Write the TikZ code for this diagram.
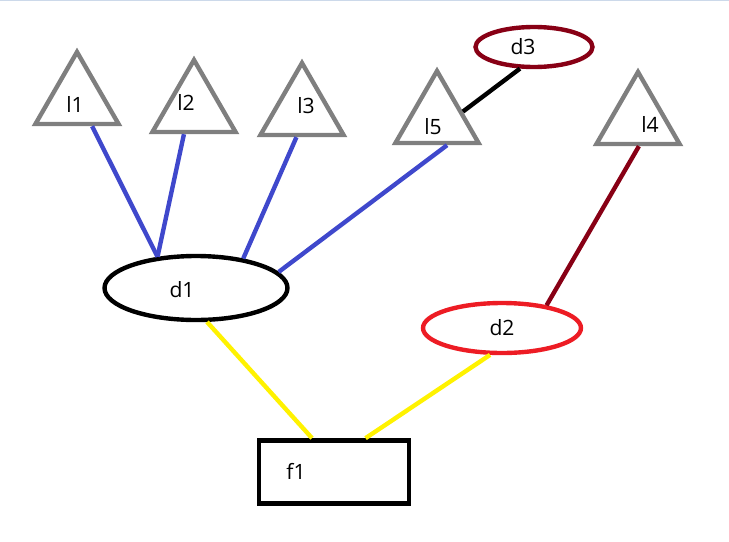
\documentclass[tikz,border=0pt]{standalone}
\usepackage{fontspec}
\setmainfont{Open Sans}
\usepackage{tikz}
\usetikzlibrary{shapes.geometric}

\definecolor{paintgray}{RGB}{127,127,127}
\definecolor{paintblue}{RGB}{63,72,204}
\definecolor{paintmaroon}{RGB}{136,0,21}
\definecolor{paintred}{RGB}{237,28,36}
\definecolor{paintyellow}{RGB}{255,242,0}
\definecolor{framebar}{RGB}{204,217,234}

\begin{document}
\begin{tikzpicture}[
  x=0.02cm, y=-0.02cm,
  font=\fontsize{12}{14}\selectfont,
  tri/.style={
    draw=paintgray, line width=2.5pt,
    regular polygon, regular polygon sides=3,
    minimum size=1.92cm, inner sep=0pt
  },
  oval/.style={draw=#1, line width=2.5pt, ellipse, inner sep=0pt},
  box/.style={draw=black, line width=2.7pt, inner sep=0pt,
    minimum width=3.0cm, minimum height=1.26cm},
  link/.style={line width=2.5pt, #1}
]
\useasboundingbox (0,0) rectangle (729,541);
\draw[framebar, line width=0.6pt] (0,0.5) -- (729,0.5);

% ── Top row: triangles ─────────────────────────────────────────────────────
\node[tri, label={[shift={(-2,4)}]center:l1}]  (l1) at (77,100)  {};
\node[tri, label={[shift={(-8,-6)}]center:l2}] (l2) at (194,108) {};
\node[tri, label={[shift={(4,-5)}]center:l3}]  (l3) at (302,111) {};
\node[tri, label={[shift={(-4,8)}]center:l5}]  (l5) at (437,119) {};
\node[tri, label={[shift={(12,4)}]center:l4}]  (l4) at (638,120) {};

% ── Ellipses ───────────────────────────────────────────────────────────────
\node[oval=paintmaroon, minimum width=2.34cm, minimum height=0.8cm,
  label={[shift={(-11,0)}]center:d3}] (d3) at (534,47) {};
\node[oval=black, minimum width=3.66cm, minimum height=1.28cm,
  label={[shift={(-14,2)}]center:d1}] (d1) at (196,288) {};
\node[oval=paintred, minimum width=3.16cm, minimum height=1.0cm]
  (d2) at (502,328) {d2};

% ── Bottom box ─────────────────────────────────────────────────────────────
\node[box, label={[shift={(-38,-1)}]center:f1}] (f1) at (334,472) {};

% ── Connectors ─────────────────────────────────────────────────────────────
\draw[link=paintblue] (l1.-60)  -- (d1.141);
\draw[link=paintblue] (l2.-111) -- (d1.141);
\draw[link=paintblue] (l3.-102) -- (d1.32);
\draw[link=paintblue] (l5.-69)  -- (d1.11);
\draw[link=black]     (l5.16)   -- (d3.-123);
\draw[link=paintmaroon] (l4.-88) -- (d2.27);
\draw[link=paintyellow] (d1.-72)  -- (f1.123);
\draw[link=paintyellow] (d2.-114) -- (f1.47);

\end{tikzpicture}
\end{document}
